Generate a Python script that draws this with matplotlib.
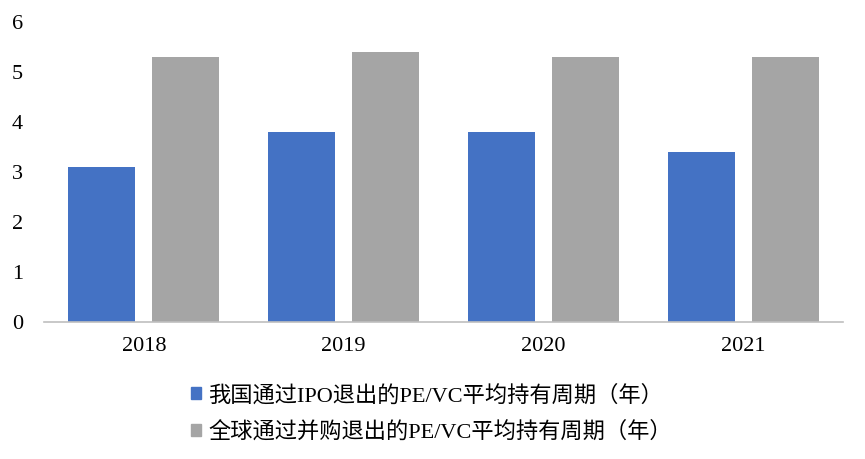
import matplotlib
matplotlib.use("Agg")
import matplotlib.pyplot as plt
import numpy as np
from matplotlib.patches import Patch

plt.rcParams['font.family'] = ['Liberation Serif', 'Noto Sans CJK SC']

years = ['2018', '2019', '2020', '2021']
china_ipo = [3.1, 3.8, 3.8, 3.4]
global_ma = [5.3, 5.4, 5.3, 5.3]
labels = ['我国通过IPO退出的PE/VC平均持有周期（年）', '全球通过并购退出的PE/VC平均持有周期（年）']
yticks = [0, 1, 2, 3, 4, 5, 6]

blue = '#4472C4'
gray = '#A5A5A5'

fig = plt.figure(figsize=(8.65, 4.59), dpi=100)
ax = fig.add_axes([44/865, (459-322)/459, (843-44)/865, 300/459])
x = np.arange(len(years))
w = 0.335
off = 0.21
ax.bar(x - off, china_ipo, w, color=blue)
ax.bar(x + off, global_ma, w, color=gray)
ax.set_xlim(-0.5, len(years) - 0.5)
ax.set_ylim(0, 6)
ax.set_yticks(yticks)
ax.set_yticklabels([str(t) for t in yticks], fontsize=16)
ax.set_xticks(x)
ax.set_xticklabels(years, fontsize=16)
for s in ['top', 'right', 'left']:
    ax.spines[s].set_visible(False)
ax.spines['bottom'].set_color('#BFBFBF')
ax.spines['bottom'].set_linewidth(1.2)
ax.tick_params(axis='both', length=0)
ax.tick_params(axis='y', pad=15)
ax.tick_params(axis='x', pad=11)

handles = [Patch(color=blue), Patch(color=gray)]
fig.legend(handles, labels, loc='upper left', bbox_to_anchor=(191/865, 1 - 385/459),
           frameon=False, fontsize=16, handlelength=0.45, handleheight=0.45,
           handletextpad=0.32, labelspacing=0.69, borderpad=0, borderaxespad=0)
fig.savefig('out.png', dpi=100)
